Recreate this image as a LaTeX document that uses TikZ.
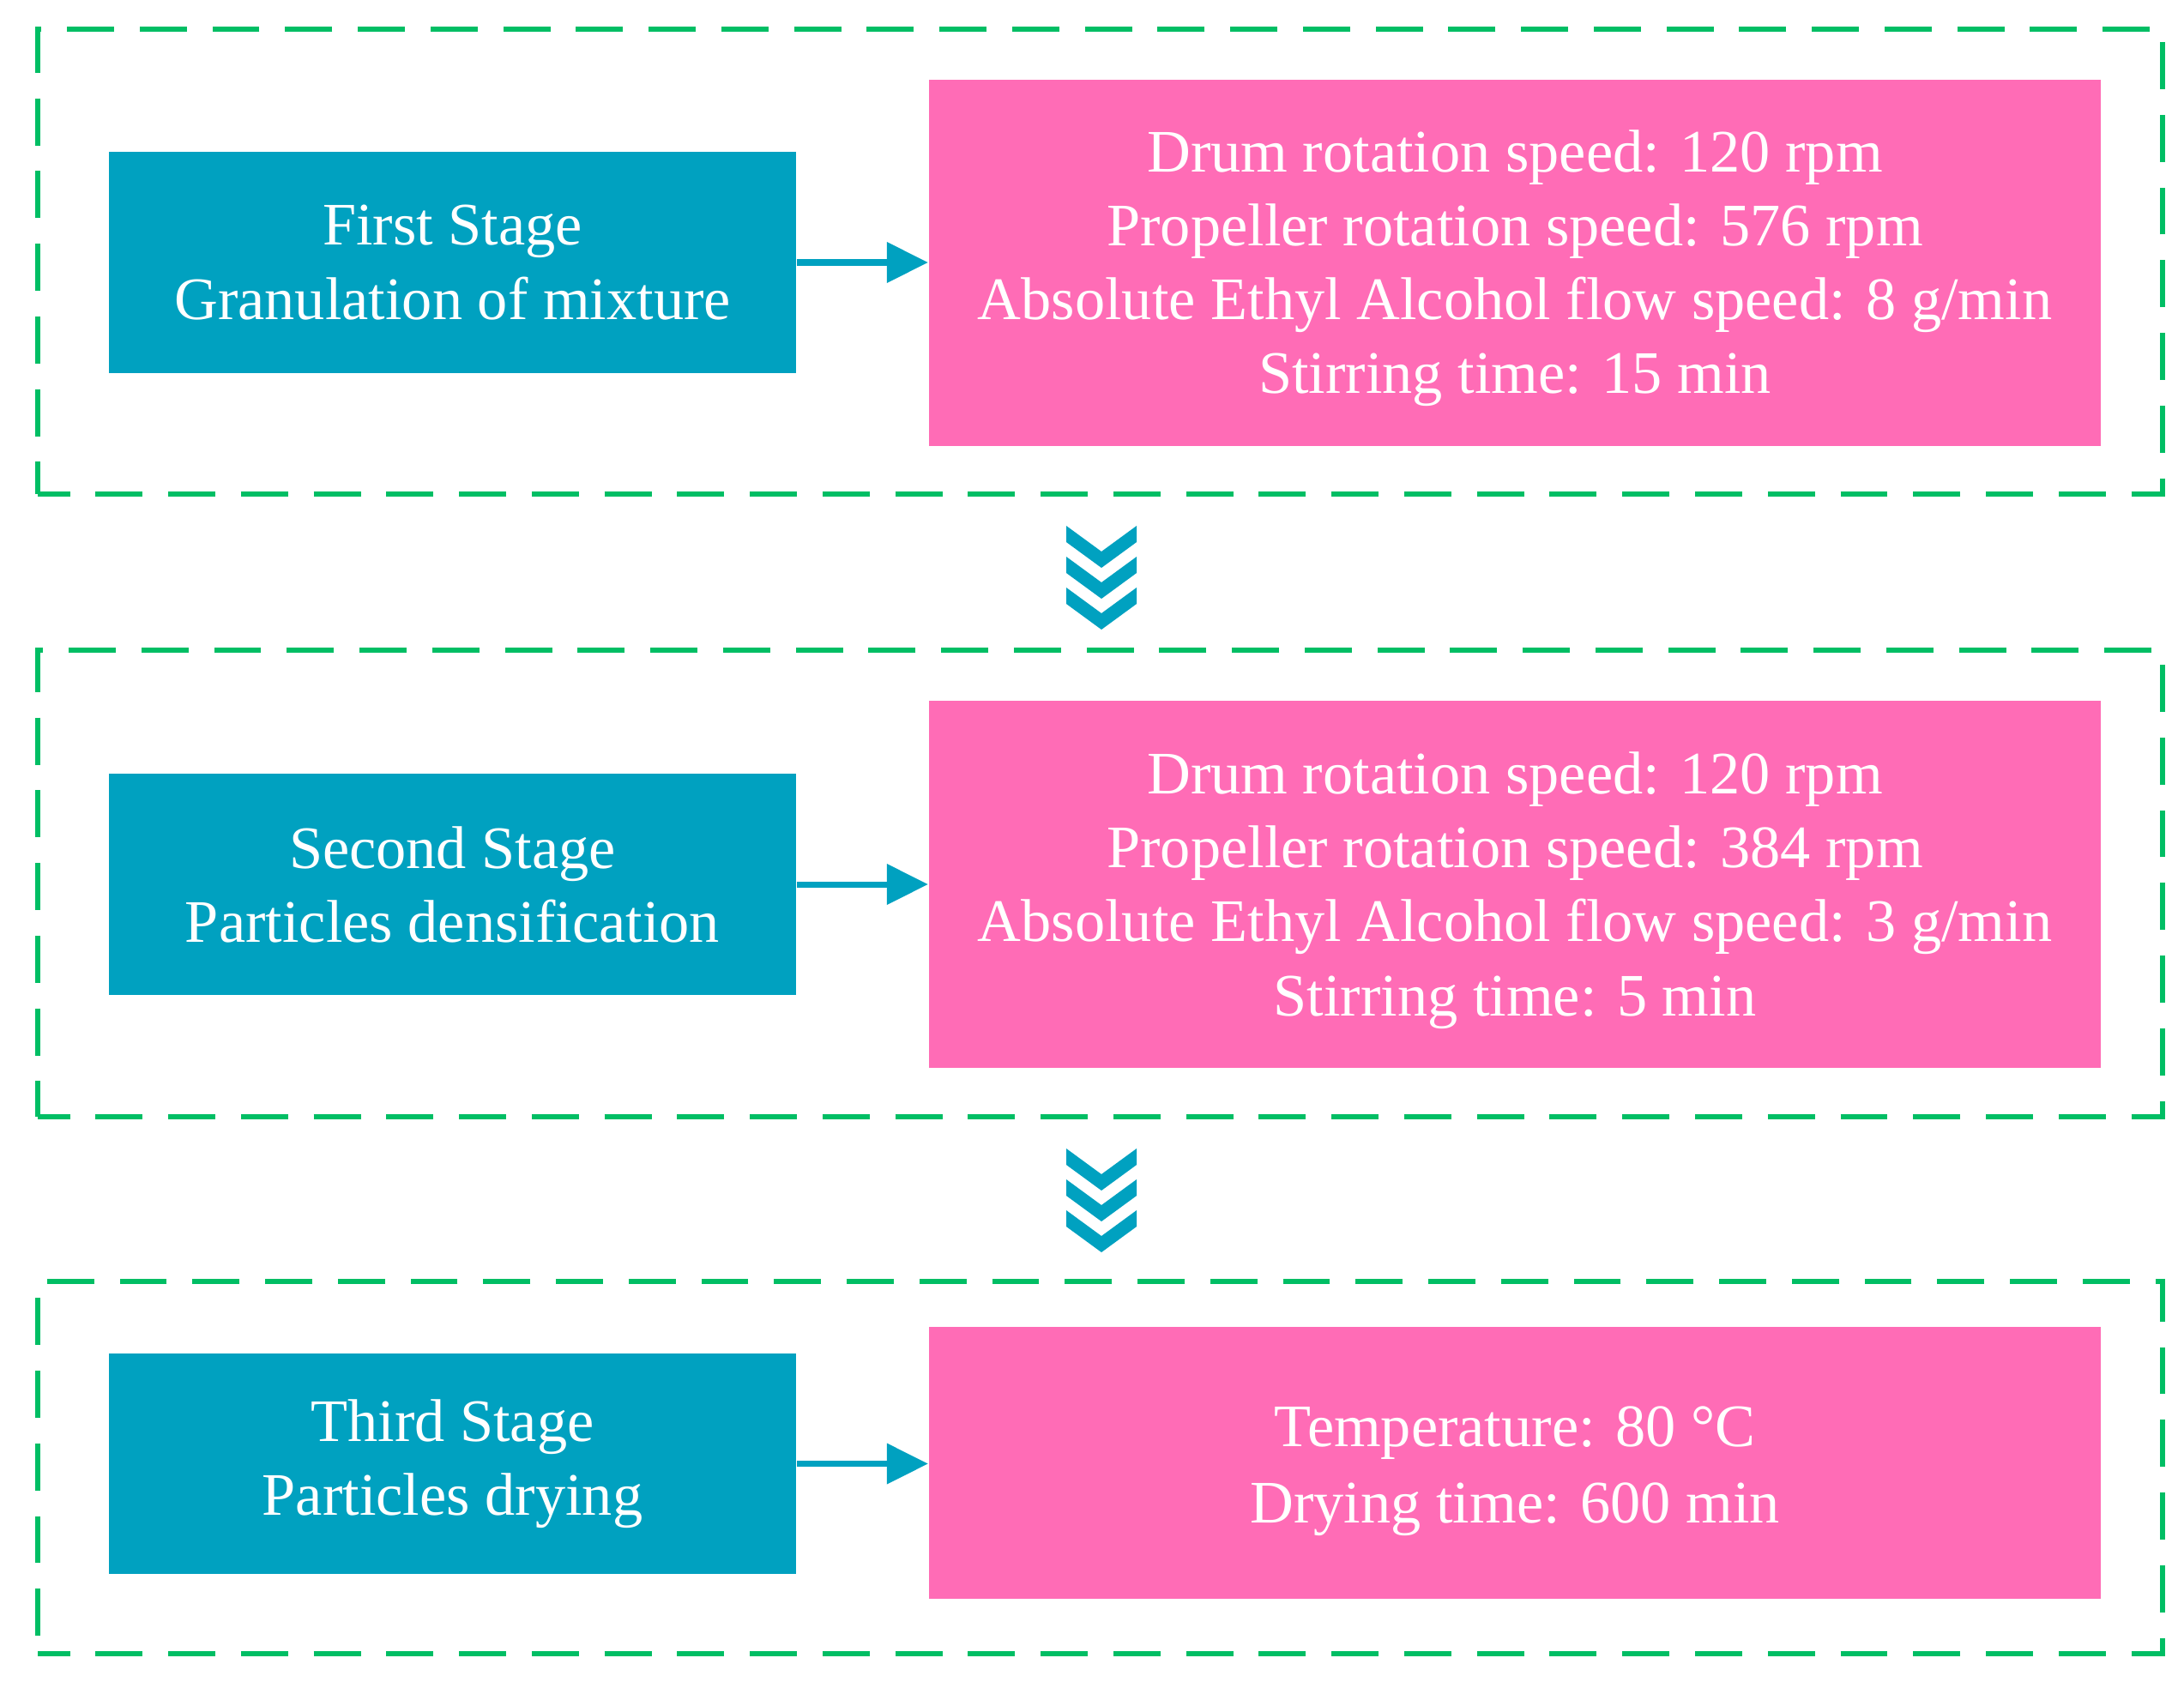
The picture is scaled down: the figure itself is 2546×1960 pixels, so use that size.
\documentclass[tikz,border=0pt]{standalone}
\usepackage{fontspec}
\setmainfont{Liberation Serif}
\usetikzlibrary{arrows.meta}
\definecolor{tealbox}{RGB}{0,161,192}
\definecolor{pinkbox}{RGB}{255,108,182}
\definecolor{greendash}{RGB}{0,190,100}
\tikzset{
  stagebox/.style={fill=tealbox, text=white, align=center, inner sep=0pt,
    minimum width=8.01cm, minimum height=2.58cm,
    font=\fontsize{20}{24.5}\selectfont},
  parambox/.style={fill=pinkbox, inner sep=0pt, minimum width=13.66cm},
  paramtext/.style={text=white, align=center, inner sep=0pt,
    font=\fontsize{20}{24.5}\selectfont},
  framebox/.style={draw=greendash, line width=1.7pt, dash pattern=on 15.6pt off 8.5pt,
    dash phase=5pt, minimum width=24.75cm, inner sep=0pt},
  flowarrow/.style={draw=tealbox, line width=2pt, -{Triangle[length=0.48cm,width=0.46cm]}},
  chevron/.style={fill=tealbox, draw=none},
  pics/triplechev/.style={code={
    \foreach \dy in {0,36,72}{
      \fill[chevron] (-41,\dy) -- (0,\dy+30) -- (41,\dy) -- (41,\dy+19) -- (0,\dy+49) -- (-41,\dy+19) -- cycle;
    }
  }}
}
\begin{document}
\begin{tikzpicture}[x=0.01cm,y=-0.01cm]
\useasboundingbox (0,0) rectangle (2546,1960);
% frames
\node[framebox, minimum height=5.42cm] (f1) at (1282.5,305) {};
\node[framebox, minimum height=5.44cm] (f2) at (1282.5,1030) {};
\node[framebox, minimum height=4.34cm] (f3) at (1282.5,1711) {};
% stage 1
\node[stagebox] (t1) at (527.5,306) {First Stage\\Granulation of mixture};
\node[parambox, minimum height=4.27cm] (p1) at (1766,306.5) {};
\node[paramtext] (p1text) at ([yshift=-0.06cm]p1.center) {Drum rotation speed: 120 rpm\\Propeller rotation speed: 576 rpm\\Absolute Ethyl Alcohol flow speed: 8 g/min\\Stirring time: 15 min};
\draw[flowarrow] (t1.east) -- (t1.east -| p1.west);
% stage 2
\node[stagebox] (t2) at (527.5,1031) {Second Stage\\Particles densification};
\node[parambox, minimum height=4.28cm] (p2) at (1766,1031) {};
\node[paramtext] (p2text) at ([yshift=-0.07cm]p2.center) {Drum rotation speed: 120 rpm\\Propeller rotation speed: 384 rpm\\Absolute Ethyl Alcohol flow speed: 3 g/min\\Stirring time: 5 min};
\draw[flowarrow] (t2.east) -- (t2.east -| p2.west);
% stage 3
\node[stagebox, minimum height=2.57cm] (t3) at (527.5,1706.5) {Third Stage\\Particles drying};
\node[parambox, minimum height=3.17cm] (p3) at (1766,1705.5) {};
\node[paramtext, font=\fontsize{20}{25.3}\selectfont] (p3text) at ([yshift=-0.1cm]p3.center) {Temperature: 80 °C\\Drying time: 600 min};
\draw[flowarrow] (t3.east) -- (t3.east -| p3.west);
% chevrons between frames
\pic at (1284,613) {triplechev};
\pic at (1284,1339) {triplechev};
\end{tikzpicture}
\end{document}
